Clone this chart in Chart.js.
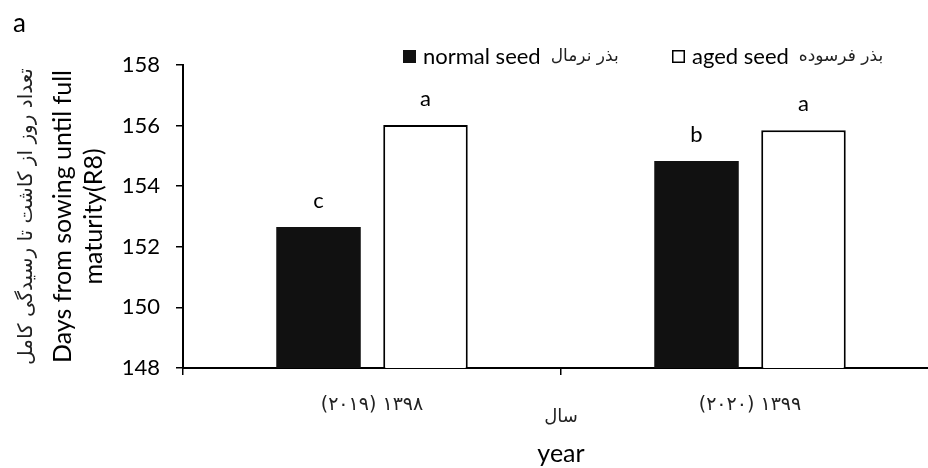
<!DOCTYPE html>
<html>
<head>
<meta charset="utf-8">
<script src="https://cdn.jsdelivr.net/npm/chart.js@4.4.0/dist/chart.umd.min.js"></script>
<style>
  html, body { margin: 0; padding: 0; background: #fff; overflow: hidden; }
  #wrap { position: relative; width: 940px; height: 468px; }
</style>
</head>
<body>
<div id="wrap"><canvas id="seedChart"></canvas></div>
<script>
// data
const years = ['(۲۰۱۹) ۱۳۹۸', '(۲۰۲۰) ۱۳۹۹'];
const normalSeed = [152.65, 154.83];
const agedSeed = [156.02, 155.85];
const normalLetters = ['c', 'b'];
const agedLetters = ['a', 'a'];
const seriesEn = ['normal seed', 'aged seed'];
const seriesFa = ['بذر نرمال', 'بذر فرسوده'];
const yTicks = [148, 150, 152, 154, 156, 158];
const yTitleEn = ['Days from sowing until full', 'maturity(R8)'];
const yTitleFa = 'تعداد روز از کاشت تا رسیدگی کامل';
const xTitleFa = 'سال';
const xTitleEn = 'year';
const panelLabel = 'a';

const EN_FONT = 'Lato, "Open Sans", sans-serif';
const FA_FONT = '"DejaVu Sans", sans-serif';

const letters = [normalLetters, agedLetters];

const extras = {
    id: 'extras',
    afterDatasetsDraw(chart) {
        const ctx = chart.ctx;
        ctx.save();
        ctx.fillStyle = '#000';
        ctx.font = '22px ' + EN_FONT;
        ctx.textAlign = 'center';
        ctx.textBaseline = 'alphabetic';
        letters.forEach((arr, i) => {
            chart.getDatasetMeta(i).data.forEach((bar, j) => {
                ctx.fillText(arr[j], bar.x, bar.y - 19);
            });
        });
        ctx.restore();
    },
    afterDraw(chart) {
        const ctx = chart.ctx;
        const area = chart.chartArea;
        ctx.save();
        ctx.fillStyle = '#000';

        // panel letter
        ctx.font = '26px ' + EN_FONT;
        ctx.textAlign = 'left';
        ctx.textBaseline = 'middle';
        ctx.fillText(panelLabel, 13, 24);

        // legend
        const legendX = [403, 672];
        const legendY = 57;
        chart.data.datasets.forEach((ds, i) => {
            let x = legendX[i];
            ctx.fillStyle = ds.backgroundColor;
            ctx.fillRect(x, legendY - 7, 13, 13);
            if (ds.borderWidth) {
                ctx.strokeStyle = '#000';
                ctx.lineWidth = 1.5;
                ctx.strokeRect(x + 0.75, legendY - 6.25, 11.5, 11.5);
            }
            ctx.fillStyle = '#000';
            x += 20;
            ctx.font = '22px ' + EN_FONT;
            ctx.textAlign = 'left';
            ctx.fillText(seriesEn[i], x, legendY);
            x += ctx.measureText(seriesEn[i]).width + 10;
            ctx.font = '17px ' + FA_FONT;
            ctx.fillStyle = '#222';
            ctx.fillText(seriesFa[i], x, legendY);
        });

        // persian y title
        ctx.save();
        ctx.translate(27, (area.top + area.bottom) / 2);
        ctx.rotate(-Math.PI / 2);
        ctx.textAlign = 'center';
        ctx.font = '20px ' + FA_FONT;
        ctx.fillStyle = '#222';
        ctx.fillText(yTitleFa, 0, 0);
        ctx.restore();

        // x titles
        const cx = (area.left + area.right) / 2;
        ctx.textAlign = 'center';
        ctx.font = '18px ' + FA_FONT;
        ctx.fillStyle = '#222';
        ctx.fillText(xTitleFa, cx, 417);
        ctx.fillStyle = '#000';
        ctx.font = '25px ' + EN_FONT;
        ctx.fillText(xTitleEn, cx, 454);
        ctx.restore();
    }
};

new Chart(document.getElementById('seedChart').getContext('2d'), {
    type: 'bar',
    data: {
        labels: years,
        datasets: [{
            label: seriesEn[0] + ' ' + seriesFa[0],
            data: normalSeed,
            backgroundColor: '#111111',
            borderWidth: 0,
            barPercentage: 0.79,
            categoryPercentage: 0.566
        }, {
            label: seriesEn[1] + ' ' + seriesFa[1],
            data: agedSeed,
            backgroundColor: '#ffffff',
            borderColor: '#000000',
            borderWidth: 2,
            borderSkipped: false,
            barPercentage: 0.79,
            categoryPercentage: 0.566
        }]
    },
    options: {
        responsive: true,
        maintainAspectRatio: false,
        animation: false,
        layout: { padding: { top: 65, right: 1, left: 0, bottom: 0 } },
        plugins: {
            legend: { display: false },
            tooltip: { enabled: false }
        },
        scales: {
            x: {
                grid: { drawOnChartArea: false, drawTicks: true, tickLength: 7, color: '#000', lineWidth: 1.5, offset: true },
                border: { color: '#000', width: 2 },
                ticks: { color: '#222', font: { family: FA_FONT, size: 19 }, padding: 19, maxRotation: 0 },
                afterFit: (s) => { s.height = 100; }
            },
            y: {
                min: yTicks[0],
                max: yTicks[yTicks.length - 1],
                ticks: { stepSize: yTicks[1] - yTicks[0], color: '#000', font: { family: EN_FONT, size: 22 }, padding: 16 },
                grid: { drawOnChartArea: false, tickLength: 7, color: '#000', lineWidth: 1.5 },
                border: { color: '#000', width: 2 },
                title: {
                    display: true,
                    text: yTitleEn,
                    color: '#000',
                    font: { family: EN_FONT, size: 25, lineHeight: 1.25 },
                    padding: { top: 47, bottom: 0 }
                },
                afterFit: (s) => { s.width = 183; }
            }
        }
    },
    plugins: [extras]
});
</script>
</body>
</html>
